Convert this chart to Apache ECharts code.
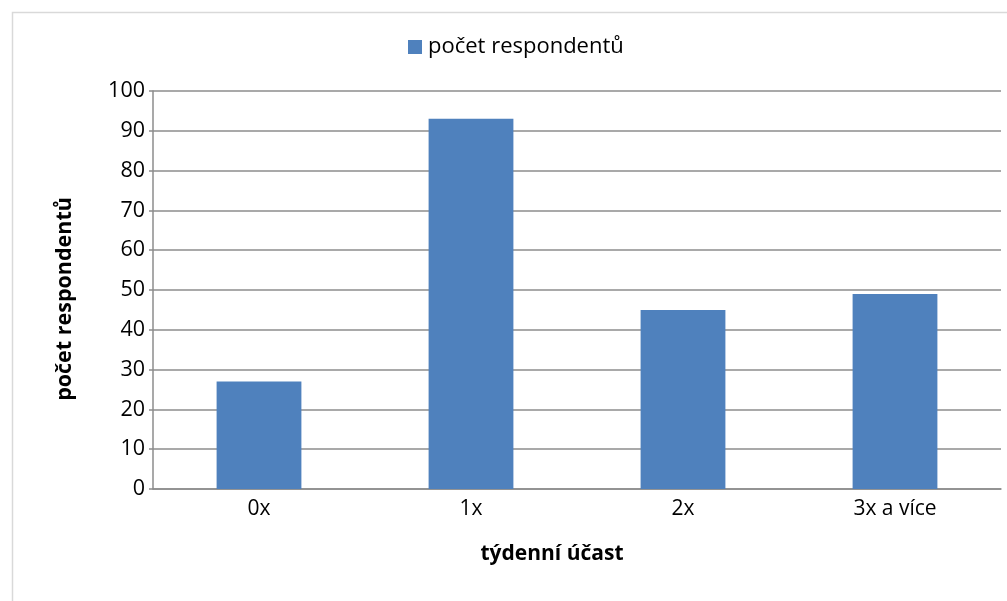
<!DOCTYPE html>
<html>
<head>
<meta charset="utf-8">
<script src="https://cdn.jsdelivr.net/npm/echarts@6/dist/echarts.min.js"></script>
<style>
html,body{margin:0;padding:0;background:#fff;}
#c{width:1007px;height:601px;}
</style>
</head>
<body>
<div id="c"></div>
<script>
const categories = ['0x', '1x', '2x', '3x a více'];
const values = [27, 93, 45, 49];
const seriesName = 'počet respondentů';
const xAxisTitle = 'týdenní účast';
const yAxisTitle = 'počet respondentů';

const FONT = '"Open Sans", Lato, sans-serif';
const chart = echarts.init(document.getElementById('c'));
chart.setOption({
  animation: false,
  backgroundColor: '#fff',
  textStyle: { fontFamily: FONT },
  graphic: [{
    type: 'rect', left: 10, top: 10,
    shape: { width: 1010, height: 610 },
    style: { fill: 'none', stroke: '#d9d9d9', lineWidth: 1.5 },
    silent: true, z: -1
  }],
  legend: {
    top: 31, left: 403,
    itemWidth: 14, itemHeight: 14, itemGap: 8,
    icon: 'rect',
    textStyle: { fontSize: 22, color: '#000', fontFamily: FONT, padding: [0, 0, 0, 1] },
    data: [seriesName]
  },
  grid: { left: 153, right: 6, top: 91, bottom: 112, containLabel: false },
  xAxis: {
    type: 'category', data: categories,
    name: xAxisTitle, nameLocation: 'middle', nameGap: 55,
    nameTextStyle: { fontSize: 21, fontWeight: 'bold', color: '#000', fontFamily: FONT, padding: [0, 50, 0, 0] },
    axisLine: { lineStyle: { color: '#8c8c8c', width: 1.5 } },
    axisTick: { show: false },
    axisLabel: { fontSize: 21, color: '#000', margin: 10, fontFamily: FONT }
  },
  yAxis: {
    type: 'value', min: 0, max: 100, interval: 10,
    name: yAxisTitle, nameLocation: 'middle', nameGap: 77, nameRotate: 90,
    nameTextStyle: { fontSize: 21.5, fontWeight: 'bold', color: '#000', fontFamily: FONT, padding: [0, 18, 0, 0] },
    axisLine: { show: true, lineStyle: { color: '#8c8c8c', width: 1.5 } },
    axisTick: { show: true, length: 4, lineStyle: { color: '#8c8c8c', width: 1.5 } },
    axisLabel: { fontSize: 21.5, color: '#000', margin: 8, fontFamily: FONT },
    splitLine: { show: true, lineStyle: { color: '#8c8c8c', width: 1.5 } }
  },
  series: [{
    name: seriesName, type: 'bar', data: values,
    barWidth: '40%',
    itemStyle: { color: '#4f81bd' }
  }]
});
</script>
</body>
</html>
